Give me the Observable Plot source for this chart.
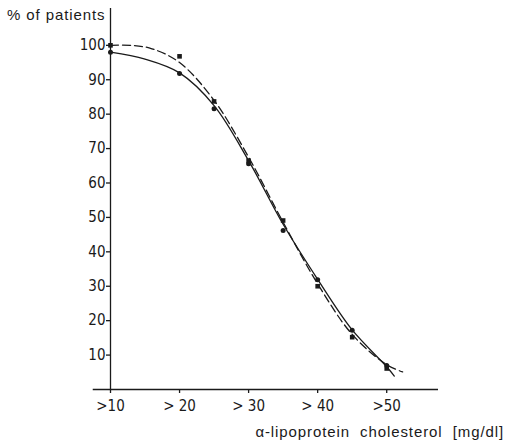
<!DOCTYPE html>
<html>
<head>
<meta charset="utf-8">
<script src="https://cdn.jsdelivr.net/npm/d3@7"></script>
<script src="https://cdn.jsdelivr.net/npm/@observablehq/plot@0.6"></script>
<style>
  html, body { margin: 0; padding: 0; background: #fff; }
  #chart { position: relative; width: 506px; height: 442px; }
  .lbl { position: absolute; font-family: "Liberation Sans", Arial, sans-serif; font-size: 15px; color: #1a1a1a; white-space: pre; }
</style>
</head>
<body>
<div id="chart"></div>
<script>
// Observed data points
const xCats = [10, 20, 25, 30, 35, 40, 45, 50];
const dotValues = [98, 91.8, 81.6, 65.6, 46.2, 31.9, 17.2, 7.0];      // circles, solid curve
const squareValues = [100, 96.8, 83.7, 66.5, 49.1, 30.0, 15.2, 6.1];  // squares, dashed curve

// Fitted curves
const solidX = [10, 15, 20, 25, 30, 35, 40, 45, 50, 51.1];
const solidY = [98, 96, 92, 82.5, 66.5, 48, 32, 17.3, 6.6, 3.9];
const dashedX = [10, 13, 16, 20, 25, 30, 35, 40, 45, 50, 52.3];
const dashedY = [100, 100, 99, 95, 84, 67.5, 48.6, 30.7, 16, 7.2, 5.1];

// Axis ticks
const xTicks = [10, 20, 30, 40, 50];
const xTickLabels = [">10", "> 20", "> 30", "> 40", ">50"];
const yTicks = [10, 20, 30, 40, 50, 60, 70, 80, 90, 100];

const dots = xCats.map((x, i) => ({x, y: dotValues[i]}));
const squares = xCats.map((x, i) => ({x, y: squareValues[i]}));
const solid = solidX.map((x, i) => ({x, y: solidY[i]}));
const dashed = dashedX.map((x, i) => ({x, y: dashedY[i]}));

const ink = "#1a1a1a";
const tickFont = '"Liberation Sans Narrow", "DejaVu Sans Condensed", sans-serif';

const plot = Plot.plot({
  width: 506,
  height: 442,
  marginLeft: 110,
  marginRight: 68,
  marginTop: 8,
  marginBottom: 53,
  style: {fontFamily: tickFont, fontSize: "15px", color: ink, background: "#fff"},
  x: {domain: [10, 57.5]},
  y: {domain: [0, 110.7]},
  marks: [
    Plot.ruleY([0], {x1: 7.5, x2: 57.5, stroke: ink, strokeWidth: 1.3}),
    Plot.ruleX([10], {y1: 0, y2: 110.7, stroke: ink, strokeWidth: 1.3}),
    Plot.axisX({ticks: xTicks, tickFormat: (d) => xTickLabels[xTicks.indexOf(d)], tickSize: 4, tickPadding: 7, label: null, stroke: ink, strokeWidth: 1.3}),
    Plot.axisY({ticks: yTicks, tickSize: 4, tickPadding: 1, label: null, stroke: ink, strokeWidth: 1.3}),
    Plot.line(dashed, {x: "x", y: "y", curve: "catmull-rom", stroke: ink, strokeWidth: 1.3, strokeDasharray: "8,4"}),
    Plot.line(solid, {x: "x", y: "y", curve: "catmull-rom", stroke: ink, strokeWidth: 1.3}),
    Plot.dot(dots, {x: "x", y: "y", r: 2.5, fill: ink, symbol: "circle"}),
    Plot.dot(squares, {x: "x", y: "y", r: 2.6, fill: ink, symbol: "square"})
  ]
});
const chart = document.getElementById("chart");
chart.appendChild(plot);

const t1 = document.createElement("div");
t1.className = "lbl";
t1.textContent = "% of patients";
t1.style.left = "7px"; t1.style.top = "6px"; t1.style.letterSpacing = "0.9px";
chart.appendChild(t1);

const t2 = document.createElement("div");
t2.className = "lbl";
t2.textContent = "α-lipoprotein  cholesterol  [mg/dl]";
t2.style.right = "2px"; t2.style.top = "423px"; t2.style.letterSpacing = "0.9px";
chart.appendChild(t2);
</script>
</body>
</html>
